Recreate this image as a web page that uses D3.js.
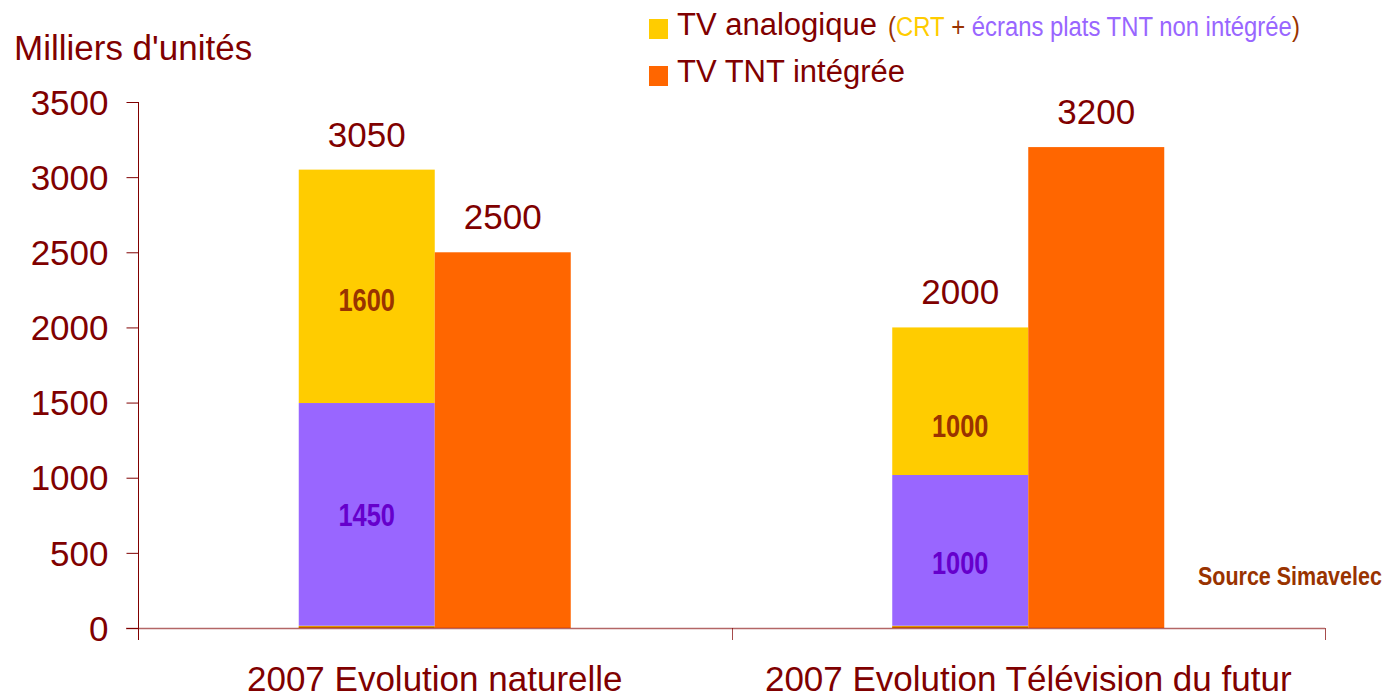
<!DOCTYPE html>
<html>
<head>
<meta charset="utf-8">
<script src="https://cdn.jsdelivr.net/npm/d3@7"></script>
<style>
  html, body { margin: 0; padding: 0; background: #fff; }
  svg { display: block; }
  text { font-family: "Liberation Sans", Arial, sans-serif; }
</style>
</head>
<body>
<svg id="chart" width="1389" height="699"></svg>
<script>
// ---- Data ----
const categories = ["2007 Evolution naturelle", "2007 Evolution Télévision du futur"];
const baseStrip = [15, 15];            // thin yellow strip at the base of the stacked bars
const analogFlat = [1482, 1003];       // "écrans plats TNT non intégrée" (purple)
const analogCrt = [1553, 982];         // "CRT" (yellow)
const tntIntegree = [2500, 3200];      // TV TNT intégrée (orange)
const analogTotalLabels = ["3050", "2000"];
const tntLabels = ["2500", "3200"];
const crtLabels = ["1600", "1000"];
const flatLabels = ["1450", "1000"];
const yTicks = [0, 500, 1000, 1500, 2000, 2500, 3000, 3500];
const legendParts = ["(", "CRT", " + ", "écrans plats TNT non intégrée", ")"];

// ---- Styling ----
const MAROON = "#800000", YELLOW = "#FFCC00", PURPLE = "#9966FF", ORANGE = "#FF6600";
const BROWN = "#993300", DPURPLE = "#6600CC";
const partColors = [BROWN, YELLOW, BROWN, PURPLE, BROWN];

const svg = d3.select("#chart");
const y = d3.scaleLinear().domain([0, 3500]).range([628, 102]);
const x = d3.scaleBand().domain(categories).range([138, 1325]).paddingInner(0).paddingOuter(0);
const bw = x.bandwidth();
const barW = 136;
const x1 = d3.scaleBand().domain(["stack", "tnt"]).range([bw / 2 - barW, bw / 2 + barW]);

// place a text horizontally condensed by factor k, anchored at (px, py) with given anchor
function condensed(sel, k, anchor) {
  sel.each(function () {
    const t = d3.select(this);
    const px = +t.attr("x"), py = +t.attr("y");
    t.attr("x", 0).attr("y", 0).attr("text-anchor", anchor)
      .attr("transform", `translate(${px},${py}) scale(${k},1)`);
  });
}

// ---- Stacked bars ----
const rows = categories.map((c, i) => ({ cat: c, strip: baseStrip[i], flat: analogFlat[i], crt: analogCrt[i], tnt: tntIntegree[i] }));
const stack = d3.stack().keys(["strip", "flat", "crt"])(rows);
const segColor = { strip: YELLOW, flat: PURPLE, crt: YELLOW };

const g = svg.append("g");
stack.forEach(layer => {
  g.selectAll(null).data(layer).enter().append("rect")
    .attr("x", d => x(d.data.cat) + x1("stack"))
    .attr("width", x1.bandwidth())
    .attr("y", d => y(d[1]))
    .attr("height", d => y(d[0]) - y(d[1]))
    .attr("fill", segColor[layer.key]);
});
g.selectAll(null).data(rows).enter().append("rect")
  .attr("x", d => x(d.cat) + x1("stack"))
  .attr("width", x1.bandwidth())
  .attr("y", y(0) - 1.5).attr("height", 1.5)
  .attr("fill", "#C86400");

g.selectAll(null).data(rows).enter().append("rect")
  .attr("x", d => x(d.cat) + x1("tnt"))
  .attr("width", x1.bandwidth())
  .attr("y", d => y(d.tnt))
  .attr("height", d => y(0) - y(d.tnt))
  .attr("fill", ORANGE);

// ---- Axes ----
const ax = svg.append("g");
ax.append("line").attr("x1", 126).attr("x2", x.range()[1]).attr("y1", y(0) + 0.5).attr("y2", y(0) + 0.5)
  .attr("stroke", MAROON).attr("stroke-opacity", 0.6).attr("stroke-width", 1.5);
const yAxis = d3.axisLeft(y).tickValues(yTicks).tickSize(12).tickPadding(18).tickFormat(d3.format("d"));
const ya = ax.append("g").attr("transform", "translate(138.5,0)").call(yAxis);
ya.select(".domain").remove();
ya.selectAll(".tick line").attr("stroke", MAROON);
ya.selectAll(".tick text").attr("fill", MAROON).style("font-size", "35px")
  .style("font-family", '"Liberation Sans", Arial, sans-serif').attr("dy", "0.35em");
ax.append("line").attr("x1", 138.5).attr("x2", 138.5).attr("y1", y(3500)).attr("y2", y(0) + 12)
  .attr("stroke", MAROON).attr("stroke-width", 1);
const bounds = [x.range()[0] + bw, x.range()[1]];
ax.selectAll(null).data(bounds).enter().append("line")
  .attr("x1", d => Math.round(d) + 0.5).attr("x2", d => Math.round(d) + 0.5)
  .attr("y1", y(0)).attr("y2", y(0) + 12)
  .attr("stroke", MAROON).attr("stroke-opacity", 0.7);
svg.selectAll(null).data(categories).enter().append("text")
  .attr("x", d => x(d) + bw / 2).attr("y", 691)
  .attr("text-anchor", "middle").attr("fill", MAROON).style("font-size", "35px")
  .text(d => d);

// ---- Value labels ----
svg.selectAll(null).data(rows).enter().append("text")
  .attr("x", d => x(d.cat) + x1("stack") + barW / 2)
  .attr("y", d => y(d.strip + d.flat + d.crt) - 23)
  .attr("text-anchor", "middle").attr("fill", MAROON).style("font-size", "35px")
  .text((d, i) => analogTotalLabels[i]);
svg.selectAll(null).data(rows).enter().append("text")
  .attr("x", d => x(d.cat) + x1("tnt") + barW / 2)
  .attr("y", d => y(d.tnt) - 23)
  .attr("text-anchor", "middle").attr("fill", MAROON).style("font-size", "35px")
  .text((d, i) => tntLabels[i]);

const crtDy = [14, 25], flatDy = [1, 13];
const crtT = svg.selectAll(null).data(rows).enter().append("text")
  .attr("x", d => x(d.cat) + x1("stack") + barW / 2)
  .attr("y", (d, i) => (y(d.strip + d.flat) + y(d.strip + d.flat + d.crt)) / 2 + crtDy[i] + 11)
  .attr("fill", BROWN).style("font-size", "31px").style("font-weight", "bold")
  .text((d, i) => crtLabels[i]);
condensed(crtT, 0.82, "middle");
const flatT = svg.selectAll(null).data(rows).enter().append("text")
  .attr("x", d => x(d.cat) + x1("stack") + barW / 2)
  .attr("y", (d, i) => (y(d.strip) + y(d.strip + d.flat)) / 2 + flatDy[i] + 11)
  .attr("fill", DPURPLE).style("font-size", "31px").style("font-weight", "bold")
  .text((d, i) => flatLabels[i]);
condensed(flatT, 0.82, "middle");

// ---- Title ----
svg.append("text").attr("x", 14).attr("y", 60).attr("fill", MAROON).style("font-size", "35px")
  .text("Milliers d'unités");

// ---- Legend ----
const leg = svg.append("g");
leg.append("rect").attr("x", 649).attr("y", 19).attr("width", 19).attr("height", 20).attr("fill", YELLOW);
leg.append("rect").attr("x", 649).attr("y", 66).attr("width", 19).attr("height", 20).attr("fill", ORANGE);
leg.append("text").attr("x", 677).attr("y", 35).attr("fill", MAROON).style("font-size", "31px").text("TV analogique");
leg.append("text").attr("x", 677).attr("y", 82).attr("fill", MAROON).style("font-size", "31px").text("TV TNT intégrée");

// parenthetical, condensed to the reference width, one text per coloured part
const parts = leg.selectAll(null).data(legendParts).enter().append("text")
  .attr("xml:space", "preserve").style("white-space", "pre")
  .style("font-size", "28px")
  .attr("fill", (d, i) => partColors[i]).text(d => d);
const widths = [];
parts.each(function () { widths.push(this.getComputedTextLength()); });
const k = 412 / d3.sum(widths);
let cx = 888;
parts.each(function (d, i) {
  d3.select(this).attr("transform", `translate(${cx},36) scale(${k},1)`);
  cx += widths[i] * k;
});

// ---- Source ----
const src = svg.append("text").attr("x", 1198).attr("y", 585).attr("fill", BROWN)
  .style("font-size", "25px").style("font-weight", "bold")
  .text("Source Simavelec");
const srcW = src.node().getComputedTextLength();
condensed(src, 184 / srcW, "start");
</script>
</body>
</html>
